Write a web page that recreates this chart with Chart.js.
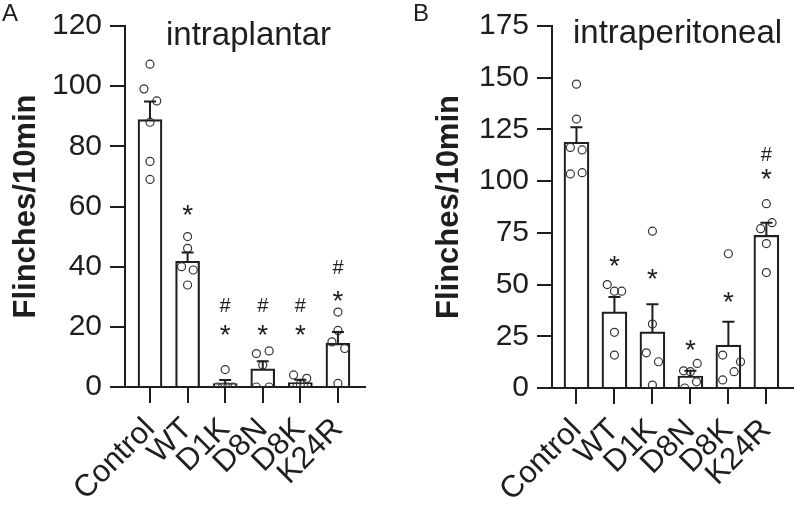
<!DOCTYPE html>
<html>
<head>
<meta charset="utf-8">
<script src="https://cdn.jsdelivr.net/npm/chart.js@4"></script>
<style>
  body { margin: 0; background: #fff; }
  #wrap { position: relative; width: 798px; height: 506px; }
  .panel { position: absolute; top: 0; height: 506px; }
</style>
</head>
<body>
<div id="wrap">
  <div class="panel" style="left:0;width:400px"><canvas id="chartA"></canvas></div>
  <div class="panel" style="left:400px;width:398px"><canvas id="chartB"></canvas></div>
</div>
<script>
var categories = ['Control', 'WT', 'D1K', 'D8N', 'D8K', 'K24R'];

// A - intraplantar
var yTicksA = [0, 20, 40, 60, 80, 100, 120];
var meanA = [88.9, 41.8, 1.1, 6.0, 1.5, 14.5];
var semA = [6.0, 2.9, 1.2, 2.6, 0.9, 3.8];
var dotsA = [
    [107.3, 99.1, 95.1, 88.0, 75.0, 69.0],
    [50.0, 46.1, 40.0, 38.9, 33.9],
    [5.8, 0, 0, 0, 0],
    [11.1, 12.0, 7.3, 0, 0],
    [4.0, 2.9, 1.0, 0, 0],
    [24.9, 18.8, 15.0, 12.8, 1.2]
];
var jitterA = [
    [0, -0.16, 0.18, 0, 0, 0],
    [0, 0, -0.16, 0.15, 0],
    [0, -0.2, -0.07, 0.07, 0.2],
    [-0.17, 0.17, 0, -0.17, 0.17],
    [-0.18, 0.17, 0, -0.1, 0.1],
    [0, 0, -0.16, 0.18, 0]
];
var starA = [null, 59, 19, 19, 19, 30.4];
var hashA = [null, null, 27.4, 27.4, 27.4, 40];

// B - intraperitoneal
var yTicksB = [0, 25, 50, 75, 100, 125, 150, 175];
var meanB = [118.8, 36.8, 27.1, 5.8, 20.7, 73.8];
var semB = [7.2, 7.2, 13.4, 2.5, 11.3, 6.1];
var dotsB = [
    [146.9, 130.0, 116.3, 115.1, 103.5, 104.1],
    [50.0, 46.8, 46.8, 26.9, 15.9],
    [75.8, 30.9, 17.0, 12.7, 1.4],
    [8.3, 7.9, 11.9, 3.0, 0],
    [64.9, 15.9, 12.7, 7.9, 3.9],
    [89.1, 79.9, 77.0, 69.8, 55.8]
];
var jitterB = [
    [0, 0, -0.16, 0.15, -0.16, 0.15],
    [-0.19, 0, 0.19, 0, 0],
    [0, 0, -0.16, 0.16, 0],
    [-0.18, 0, 0.18, 0.16, -0.15],
    [0, -0.15, 0.32, 0.15, -0.15],
    [0, 0.15, -0.15, 0, 0]
];
var starB = [null, 61.4, 55, 20.7, 44, 103.5];
var hashB = [null, null, null, null, null, 113];

var ink = '#1e1e1e';
var fontFamily = '"Liberation Sans", Arial, sans-serif';

function annotate(p) {
    return {
        id: 'annotate',
        afterDatasetsDraw: function (chart) {
            var ctx = chart.ctx, xs = chart.scales.x, ys = chart.scales.y;
            ctx.save();
            // error bars (up only)
            ctx.strokeStyle = ink;
            ctx.lineWidth = 2;
            p.mean.forEach(function (m, i) {
                var px = xs.getPixelForValue(i);
                var top = ys.getPixelForValue(m + p.sem[i]);
                ctx.beginPath();
                ctx.moveTo(px, ys.getPixelForValue(m));
                ctx.lineTo(px, top);
                ctx.moveTo(px - 6, top);
                ctx.lineTo(px + 6, top);
                ctx.stroke();
            });
            // significance marks
            ctx.fillStyle = ink;
            ctx.textAlign = 'center';
            ctx.textBaseline = 'alphabetic';
            function mark(ch, size, v, i) {
                if (v === null) return;
                ctx.font = size + 'px ' + fontFamily;
                var m = ctx.measureText(ch);
                var cy = ys.getPixelForValue(v) + (m.actualBoundingBoxAscent - m.actualBoundingBoxDescent) / 2;
                ctx.fillText(ch, xs.getPixelForValue(i), cy);
            }
            p.star.forEach(function (v, i) { mark('*', 28, v, i); });
            p.hash.forEach(function (v, i) { mark('#', 20, v, i); });
            // panel letter and title
            ctx.textAlign = 'left';
            ctx.font = '24px ' + fontFamily;
            ctx.fillText(p.letter, p.letterX, 21);
            ctx.font = '33px ' + fontFamily;
            ctx.fillText(p.title, p.titleX, p.titleY);
            ctx.restore();
        }
    };
}

function makeChart(id, p) {
    var barData = p.mean.map(function (m, i) { return { x: i, y: m }; });
    var dotData = [];
    p.dots.forEach(function (list, i) {
        list.forEach(function (v, k) {
            dotData.push({ x: i + p.jitter[i][k], y: v });
        });
    });

    return new Chart(document.getElementById(id).getContext('2d'), {
        type: 'bar',
        data: {
            datasets: [
                {
                    type: 'scatter',
                    data: dotData,
                    pointRadius: 4,
                    pointBorderWidth: 1.2,
                    pointBorderColor: '#333',
                    pointBackgroundColor: 'rgba(255,255,255,0)',
                    order: 1
                },
                {
                    data: barData,
                    backgroundColor: '#fff',
                    borderColor: ink,
                    borderWidth: 2.2,
                    barThickness: p.barWidth,
                    order: 2
                }
            ]
        },
        options: {
            responsive: true,
            maintainAspectRatio: false,
            animation: false,
            layout: { padding: { top: p.top, right: p.right, left: 0, bottom: 0 } },
            plugins: {
                legend: { display: false },
                tooltip: { enabled: false }
            },
            scales: {
                x: {
                    type: 'linear',
                    offset: false,
                    min: p.xMin,
                    max: p.xMax,
                    afterBuildTicks: function (scale) {
                        scale.ticks = categories.map(function (c, i) { return { value: i }; });
                    },
                    afterFit: function (scale) {
                        scale.height = 506 - p.bottom;
                        scale.paddingLeft = 0;
                        scale.paddingRight = 0;
                    },
                    grid: { offset: false, drawOnChartArea: false, color: ink, lineWidth: 2, tickLength: 16 },
                    border: { color: ink, width: 2 },
                    ticks: {
                        autoSkip: false,
                        minRotation: 45,
                        maxRotation: 45,
                        padding: 8,
                        color: ink,
                        font: { family: fontFamily, size: 31 },
                        callback: function (v) { return categories[v]; }
                    }
                },
                y: {
                    min: 0,
                    max: p.yTicks[p.yTicks.length - 1],
                    afterBuildTicks: function (scale) {
                        scale.ticks = p.yTicks.map(function (v) { return { value: v }; });
                    },
                    afterFit: function (scale) { scale.width = p.axisX; },
                    grid: { drawOnChartArea: false, color: ink, lineWidth: 2, tickLength: 15 },
                    border: { color: ink, width: 2 },
                    ticks: {
                        padding: 8,
                        color: ink,
                        font: { family: fontFamily, size: 30 }
                    },
                    title: {
                        display: true,
                        text: 'Flinches/10min',
                        color: ink,
                        padding: { top: p.titlePad, bottom: 0 },
                        font: { family: fontFamily, size: 31, weight: 'bold' }
                    }
                }
            }
        },
        plugins: [annotate(p)]
    });
}

makeChart('chartA', {
    mean: meanA, sem: semA, dots: dotsA, jitter: jitterA, star: starA, hash: hashA,
    yTicks: yTicksA, letter: 'A', letterX: 2, title: 'intraplantar', titleX: 166, titleY: 45,
    top: 24, right: 35, bottom: 387, axisX: 125, xMin: -0.665, xMax: 5.72, barWidth: 24, titlePad: 8
});

makeChart('chartB', {
    mean: meanB, sem: semB, dots: dotsB, jitter: jitterB, star: starB, hash: hashB,
    yTicks: yTicksB, letter: 'B', letterX: 13, title: 'intraperitoneal', titleX: 173, titleY: 43,
    top: 25, right: 0, bottom: 388, axisX: 152, xMin: -0.644, xMax: 5.696, barWidth: 25, titlePad: 31
});
</script>
</body>
</html>
